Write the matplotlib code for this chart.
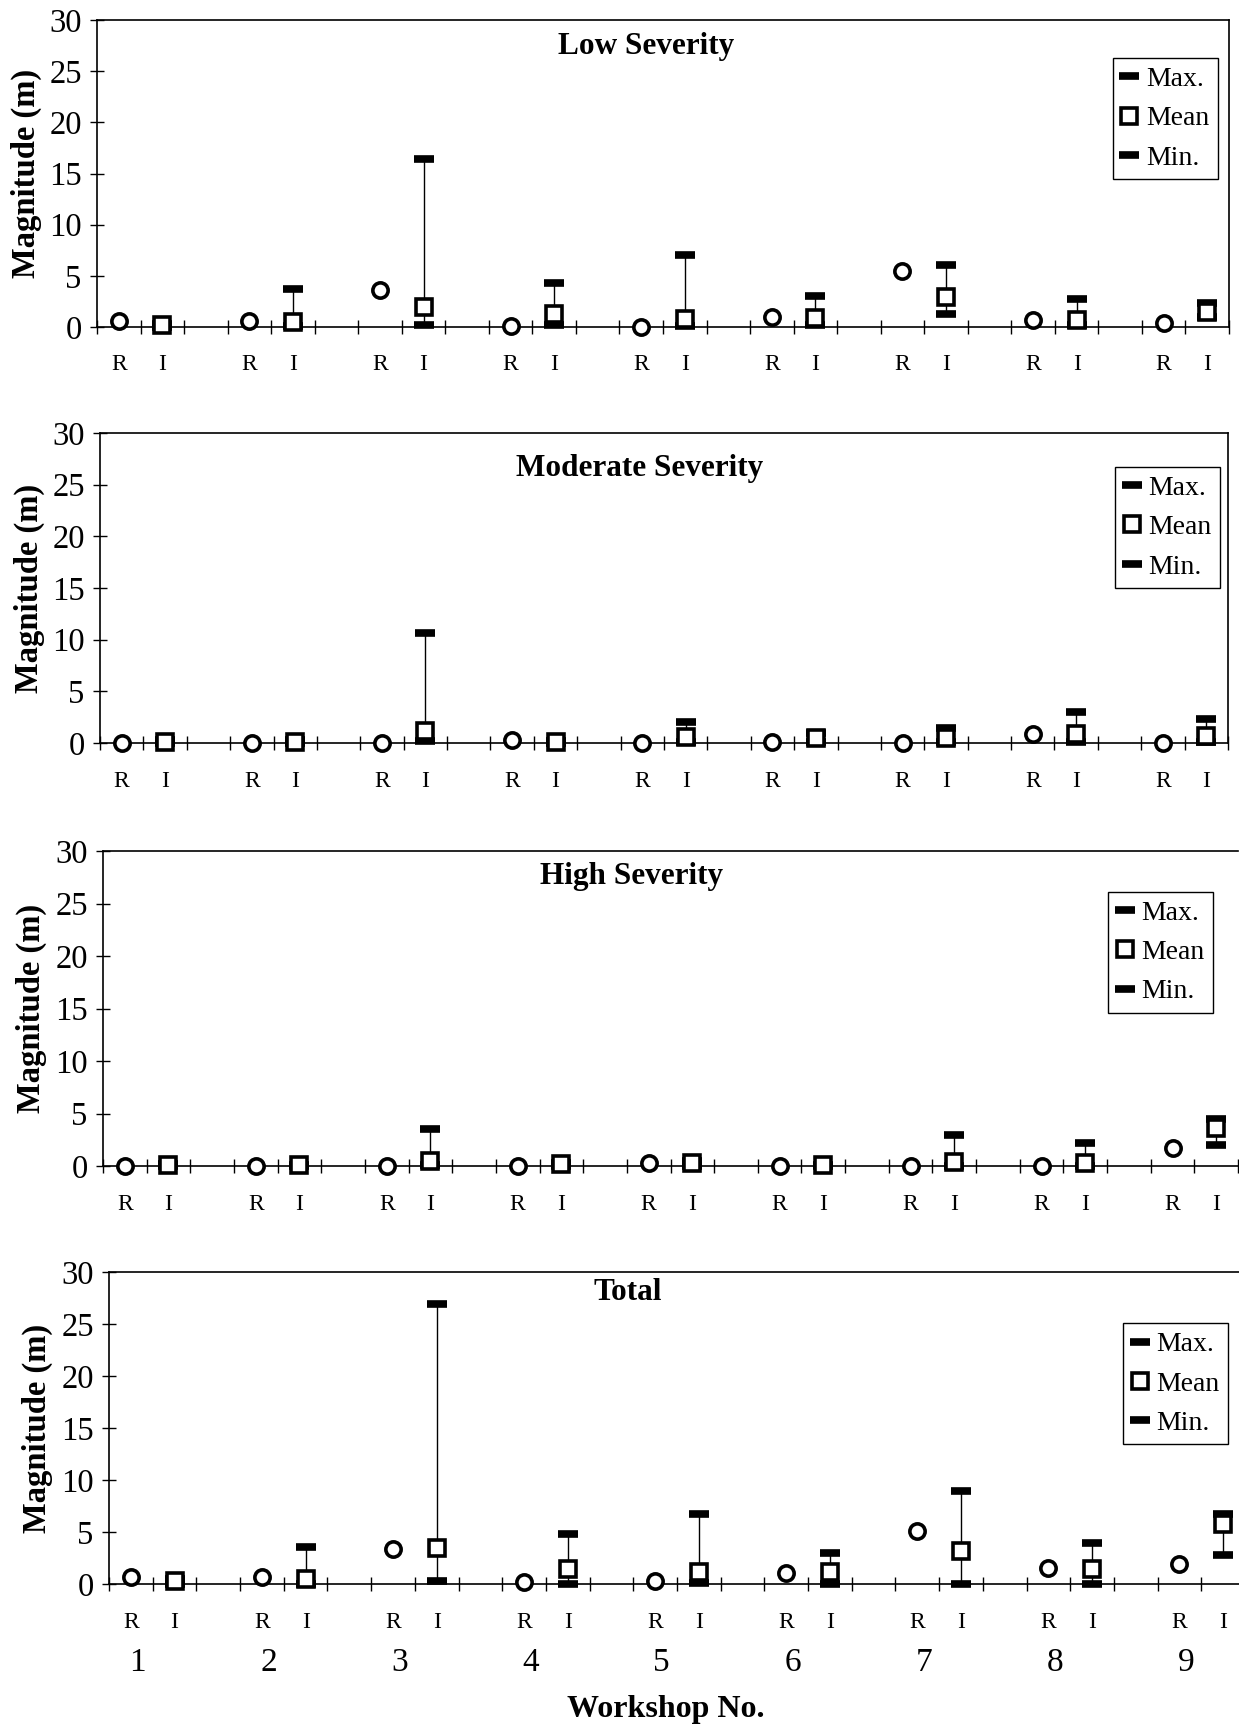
import numpy as np
import matplotlib
matplotlib.use('Agg')
from matplotlib import pyplot as plt
from matplotlib.lines import Line2D

plt.rcParams['font.family'] = ['Liberation Serif', 'DejaVu Serif']

# values (m)
workshops = ['1', '2', '3', '4', '5', '6', '7', '8', '9']

low_R = [0.6, 0.6, 3.6, 0.1, 0.0, 1.0, 5.5, 0.7, 0.4]
low_max = [0.3, 3.7, 16.4, 4.3, 7.0, 3.0, 6.1, 2.7, 2.3]
low_mean = [0.2, 0.5, 2.0, 1.3, 0.8, 0.9, 2.9, 0.7, 1.5]
low_min = [0.0, 0.1, 0.15, 0.15, 0.1, 0.2, 1.3, 0.2, 1.0]

mod_R = [0.0, 0.0, 0.0, 0.25, 0.0, 0.1, 0.0, 0.9, 0.0]
mod_max = [0.3, 0.3, 10.6, 0.2, 2.0, 1.0, 1.5, 3.0, 2.3]
mod_mean = [0.1, 0.1, 1.2, 0.1, 0.6, 0.5, 0.5, 0.9, 0.7]
mod_min = [0.0, 0.0, 0.2, 0.0, 0.1, 0.05, 0.05, 0.1, 0.1]

high_R = [0.0, 0.0, 0.0, 0.0, 0.25, 0.0, 0.0, 0.0, 1.7]
high_max = [0.2, 0.1, 3.5, 0.3, 0.5, 0.1, 3.0, 2.2, 4.5]
high_mean = [0.1, 0.05, 0.5, 0.2, 0.3, 0.05, 0.4, 0.3, 3.6]
high_min = [0.0, 0.0, 0.05, 0.0, 0.0, 0.0, 0.0, 0.0, 2.0]

tot_R = [0.65, 0.65, 3.4, 0.2, 0.3, 1.1, 5.1, 1.5, 1.9]
tot_max = [0.5, 3.6, 26.9, 4.8, 6.7, 3.0, 8.9, 3.9, 6.7]
tot_mean = [0.3, 0.5, 3.5, 1.4, 1.2, 1.2, 3.2, 1.4, 5.8]
tot_min = [0.0, 0.0, 0.25, 0.0, 0.1, 0.0, 0.0, 0.0, 2.8]

W, H = 1239, 1727
fig = plt.figure(figsize=(W / 100, H / 100), dpi=100)

# (left, right, top, bottom) in pixels, title pos, legend anchor, right spine
panels = [
    ('Low Severity', low_R, low_max, low_mean, low_min,
     (97, 1229, 20, 327), (0.485, 0.915), (0.99, 0.875), True),
    ('Moderate Severity', mod_R, mod_max, mod_mean, mod_min,
     (100, 1228, 433, 743), (0.478, 0.885), (0.993, 0.89), True),
    ('High Severity', high_R, high_max, high_mean, high_min,
     (103, 1238, 851, 1166), (0.466, 0.92), (0.978, 0.87), False),
    ('Total', tot_R, tot_max, tot_mean, tot_min,
     (109, 1245, 1272, 1584), (0.457, 0.935), (0.985, 0.835), False),
]

xr = np.arange(9) * 3
xi = xr + 1
cat_labels = []
for g in range(9):
    cat_labels += ['R', 'I', '']
cat_labels = cat_labels[:26]

dash = dict(ls='none', marker='_', ms=14, mew=5.5, color='black')
box = dict(ls='none', marker='s', ms=12, mew=2.6, mfc='white', mec='black')
ring = dict(ls='none', marker='o', ms=11, mew=2.6, mfc='white', mec='black')

for k, (title, r, mx, mn, mi, pos, tpos, lpos, rspine) in enumerate(panels):
    l, rt, t, b = pos
    ax = fig.add_axes([l / W, 1 - b / H, (rt - l) / W, (b - t) / H])
    ax.set_xlim(-0.5, 25.5)
    ax.set_ylim(0, 30)

    ax.vlines(xi, mi, mx, color='black', lw=1.0, zorder=2)
    ax.plot(xi, mx, zorder=3, clip_on=False, **dash)
    ax.plot(xi, mi, zorder=3, clip_on=False, **dash)
    ax.plot(xi, mn, zorder=4, clip_on=False, **box)
    ax.plot(xr, r, zorder=4, clip_on=False, **ring)

    ax.set_yticks([0, 5, 10, 15, 20, 25, 30])
    ax.tick_params(axis='y', direction='inout', length=10, width=1,
                   labelsize=23.5, pad=6)
    ax.set_xticks(np.arange(-0.5, 26, 1.0))
    ax.set_xticklabels([])
    ax.tick_params(axis='x', direction='inout', length=10, width=1)
    for x, lab in enumerate(cat_labels):
        if lab:
            ax.text(x, -3.7, lab, ha='center', va='center', fontsize=17)

    for s in ax.spines.values():
        s.set_linewidth(1.2)
    ax.spines['right'].set_visible(rspine)

    ax.set_ylabel('Magnitude (m)', fontsize=23.5, fontweight='bold')
    ax.yaxis.set_label_coords(-0.049, 0.5)

    ax.text(tpos[0], tpos[1], title, transform=ax.transAxes, ha='center',
            va='center', fontsize=22.5, fontweight='bold')

    handles = [Line2D([], [], **dash), Line2D([], [], **box),
               Line2D([], [], **dash)]
    leg = ax.legend(handles, ['Max.', 'Mean', 'Min.'], loc='upper right',
                    bbox_to_anchor=lpos, fontsize=20, frameon=True,
                    fancybox=False, edgecolor='black', framealpha=1,
                    handlelength=0.6, handletextpad=0.3, labelspacing=0.5,
                    borderpad=0.3, borderaxespad=0)
    leg.get_frame().set_linewidth(1.0)

    if k == 3:
        for g, name in enumerate(workshops):
            ax.text(xr[g] + 0.15, -7.6, name, ha='center', va='center',
                    fontsize=24)

fig.text(666 / W, 1 - 1709 / H, 'Workshop No.', ha='center', va='center',
         fontsize=23, fontweight='bold')

fig.savefig('out.png', dpi=100)
